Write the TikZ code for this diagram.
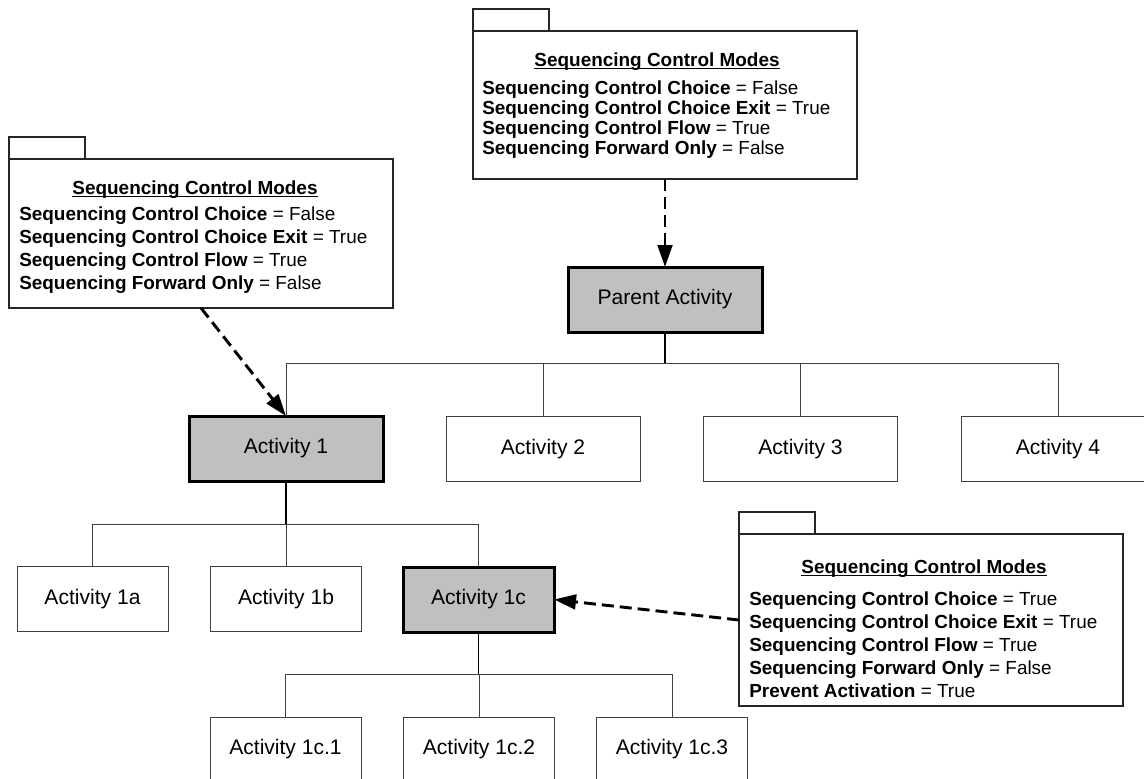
\documentclass[tikz,border=0pt]{standalone}
\usepackage{fontspec}
\setmainfont{Liberation Sans}
\usetikzlibrary{arrows.meta}
\definecolor{actfill}{HTML}{C0C0C0}
\definecolor{linegray}{HTML}{404040}

\begin{document}
\begin{tikzpicture}[x=0.75pt,y=-0.75pt,
  actbox/.style={rectangle, draw=linegray, line width=0.75pt, fill=white,
    minimum height=48.75pt, inner sep=0pt, outer sep=0pt,
    font=\fontsize{15.8}{19}\selectfont},
  wide/.style={minimum width=145.5pt},
  narrow/.style={minimum width=113.25pt},
  current/.style={draw=black, line width=2.25pt, fill=actfill},
  notebody/.style={rectangle, draw=black!85, line width=1pt, fill=white,
    inner sep=0pt, outer sep=0pt, minimum width=288pt, anchor=north west},
  notetab/.style={rectangle, draw=black!85, line width=1pt, fill=white,
    inner sep=0pt, outer sep=0pt, minimum width=57pt, minimum height=16.5pt,
    anchor=south west},
  notetext/.style={anchor=base west, inner sep=0pt, font=\fontsize{14.2}{17}\selectfont},
  notetitle/.style={anchor=base, inner sep=0pt, font=\fontsize{14.2}{17}\bfseries\selectfont},
  uline/.style={draw=black, line width=1.1pt},
  tree/.style={draw=linegray, line width=0.75pt},
  stem/.style={draw=black, line width=1.2pt},
  ref/.style={draw=black, line width=2.2pt, dash pattern=on 9pt off 4.5pt,
    -{Triangle[length=16.5pt,width=11pt]}}
]
\useasboundingbox (0,0) rectangle (1144,778);
\clip (0,0) rectangle (1144,778);
\fill[white] (0,0) rectangle (1144,778);

% ---- activity tree ----
\node[actbox, wide, current] (parent) at (665,299.5) {Parent Activity};

\node[actbox, wide, current] (a1) at (286,448.5) {Activity 1};
\node[actbox, wide] (a2) at (543,449) {Activity 2};
\node[actbox, wide] (a3) at (800.5,449) {Activity 3};
\node[actbox, wide] (a4) at (1058,449) {Activity 4};

\node[actbox, narrow] (a1a) at (92.5,599) {Activity 1a};
\node[actbox, narrow] (a1b) at (286,599) {Activity 1b};
\node[actbox, narrow, current] (a1c) at (478.5,599.5) {Activity 1c};

\node[actbox, narrow] (c1) at (285.5,749.5) {Activity 1c.1};
\node[actbox, narrow] (c2) at (479,749.5) {Activity 1c.2};
\node[actbox, narrow] (c3) at (672,749.5) {Activity 1c.3};

% ---- tree connectors ----
\path (parent.south) ++(0,31) coordinate (busA);
\draw[stem] (parent.south) -- (busA);
\foreach \c in {a1,a2,a3,a4} \draw[tree] (busA) -| (\c.north);

\path (a1.south) ++(0,43) coordinate (busB);
\draw[stem] (a1.south) -- (busB);
\foreach \c in {a1a,a1b,a1c} \draw[tree] (busB) -| (\c.north);

\path (a1c.south) ++(0,42) coordinate (busC);
\draw[stem] (a1c.south) -- (busC);
\foreach \c in {c1,c2,c3} \draw[tree] (busC) -| (\c.north);

% ---- note on the parent ----
\node[notebody, minimum height=111pt] (ntop) at (473,31) {};
\node[notetab] (ntoptab) at (ntop.north west) {};
\node[notetitle] (ntopt) at (657,66) {Sequencing Control Modes};
\draw[uline] ([yshift=-2pt]ntopt.base west) -- ([yshift=-2pt]ntopt.base east);
\node[notetext] (ntop1) at (482,94) {\textbf{Sequencing Control Choice} = False};
\node[notetext] (ntop2) at (482,114) {\textbf{Sequencing Control Choice Exit} = True};
\node[notetext] (ntop3) at (482,134) {\textbf{Sequencing Control Flow} = True};
\node[notetext] (ntop4) at (482,154) {\textbf{Sequencing Forward Only} = False};

% ---- note on activity 1 ----
\node[notebody, minimum height=111.75pt] (nleft) at (9,159) {};
\node[notetab] (nlefttab) at (nleft.north west) {};
\node[notetitle] (nleftt) at (195,194) {Sequencing Control Modes};
\draw[uline] ([yshift=-2pt]nleftt.base west) -- ([yshift=-2pt]nleftt.base east);
\node[notetext] (nleft1) at (19,220) {\textbf{Sequencing Control Choice} = False};
\node[notetext] (nleft2) at (19,243) {\textbf{Sequencing Control Choice Exit} = True};
\node[notetext] (nleft3) at (19,266) {\textbf{Sequencing Control Flow} = True};
\node[notetext] (nleft4) at (19,289) {\textbf{Sequencing Forward Only} = False};

% ---- note on activity 1c ----
\node[notebody, minimum height=129pt] (nright) at (739,534) {};
\node[notetab] (nrighttab) at (nright.north west) {};
\node[notetitle] (nrightt) at (924,573) {Sequencing Control Modes};
\draw[uline] ([yshift=-2pt]nrightt.base west) -- ([yshift=-2pt]nrightt.base east);
\node[notetext] (nright1) at (749,605) {\textbf{Sequencing Control Choice} = True};
\node[notetext] (nright2) at (749,628) {\textbf{Sequencing Control Choice Exit} = True};
\node[notetext] (nright3) at (749,651) {\textbf{Sequencing Control Flow} = True};
\node[notetext] (nright4) at (749,674) {\textbf{Sequencing Forward Only} = False};
\node[notetext] (nright5) at (749,697) {\textbf{Prevent Activation} = True};

% ---- note references ----
\draw[ref] (ntop.south) -- (parent.north);
\draw[ref] (nleft.south) -- (a1.north);
\draw[ref] (nright.west) -- (a1c.east);
\end{tikzpicture}
\end{document}
